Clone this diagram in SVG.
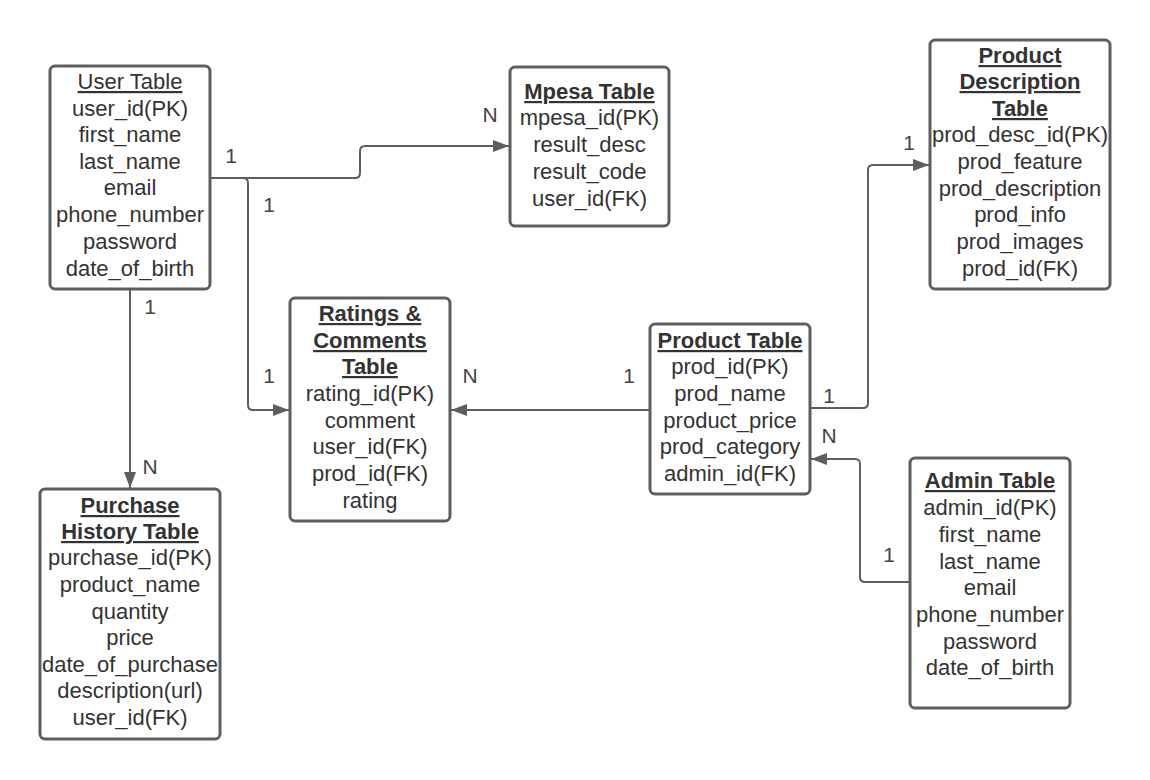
<svg xmlns="http://www.w3.org/2000/svg" width="1150" height="780" viewBox="0 0 1150 780">
<style>
.box{fill:#ffffff;stroke:#5e5e5e;stroke-width:3}
.t{font-family:"Liberation Sans",Arial,sans-serif;font-size:22px;fill:#333333;text-anchor:middle}
.h{font-weight:bold;text-decoration:underline}
.u{text-decoration:underline}
.c{fill:none;stroke:#5e5e5e;stroke-width:2}
.l{font-family:"Liberation Sans",Arial,sans-serif;font-size:21px;fill:#444444;text-anchor:middle}
</style>
<defs>
<marker id="arr" markerUnits="userSpaceOnUse" markerWidth="18" markerHeight="14" refX="16" refY="6" orient="auto">
<path d="M0,0 L16,6 L0,12 z" fill="#5e5e5e"/>
</marker>
</defs>
<rect width="1150" height="780" fill="#ffffff"/>
<g id="connectors">
<path class="c" d="M210,178 H355 Q360,178 360,173 V151 Q360,146 365,146 H509" marker-end="url(#arr)"/>
<path class="c" d="M210,178 H243 Q248,178 248,183 V405 Q248,410 253,410 H289" marker-end="url(#arr)"/>
<path class="c" d="M130,289 V488" marker-end="url(#arr)"/>
<path class="c" d="M650,410 H451" marker-end="url(#arr)"/>
<path class="c" d="M810,408 H863 Q868,408 868,403 V170 Q868,165 873,165 H929" marker-end="url(#arr)"/>
<path class="c" d="M910,582 H865 Q860,582 860,577 V464 Q860,459 855,459 H811" marker-end="url(#arr)"/>
<text class="l" x="231" y="163">1</text>
<text class="l" x="490" y="122">N</text>
<text class="l" x="269" y="212">1</text>
<text class="l" x="269" y="383">1</text>
<text class="l" x="150" y="314">1</text>
<text class="l" x="150" y="474">N</text>
<text class="l" x="470" y="383">N</text>
<text class="l" x="629" y="383">1</text>
<text class="l" x="829" y="403">1</text>
<text class="l" x="909" y="150">1</text>
<text class="l" x="829" y="443">N</text>
<text class="l" x="889" y="562">1</text>
</g>
<g id="user">
<rect class="box" x="50" y="66" width="160" height="223" rx="5"/>
<text class="t u" x="130" y="89">User Table</text>
<text class="t" x="130" y="116">user_id(PK)</text>
<text class="t" x="130" y="142">first_name</text>
<text class="t" x="130" y="169">last_name</text>
<text class="t" x="130" y="195">email</text>
<text class="t" x="130" y="222">phone_number</text>
<text class="t" x="130" y="249">password</text>
<text class="t" x="130" y="276">date_of_birth</text>
</g>
<g id="mpesa">
<rect class="box" x="510" y="67" width="159" height="159" rx="5"/>
<text class="t h" x="589.5" y="99">Mpesa Table</text>
<text class="t" x="589.5" y="125">mpesa_id(PK)</text>
<text class="t" x="589.5" y="152">result_desc</text>
<text class="t" x="589.5" y="179">result_code</text>
<text class="t" x="589.5" y="206">user_id(FK)</text>
</g>
<g id="proddesc">
<rect class="box" x="930" y="40" width="180" height="249" rx="5"/>
<text class="t h" x="1020" y="63">Product</text>
<text class="t h" x="1020" y="89">Description</text>
<text class="t h" x="1020" y="116">Table </text>
<text class="t" x="1020" y="142">prod_desc_id(PK)</text>
<text class="t" x="1020" y="169">prod_feature</text>
<text class="t" x="1020" y="196">prod_description</text>
<text class="t" x="1020" y="222">prod_info</text>
<text class="t" x="1020" y="249">prod_images</text>
<text class="t" x="1020" y="276">prod_id(FK)</text>
</g>
<g id="ratings">
<rect class="box" x="290" y="298" width="160" height="223" rx="5"/>
<text class="t h" x="370" y="321">Ratings &amp;</text>
<text class="t h" x="370" y="348">Comments</text>
<text class="t h" x="370" y="374">Table </text>
<text class="t" x="370" y="401">rating_id(PK)</text>
<text class="t" x="370" y="428">comment</text>
<text class="t" x="370" y="454">user_id(FK)</text>
<text class="t" x="370" y="481">prod_id(FK)</text>
<text class="t" x="370" y="508">rating</text>
</g>
<g id="product">
<rect class="box" x="650" y="324" width="160" height="170" rx="5"/>
<text class="t h" x="730" y="348">Product Table</text>
<text class="t" x="730" y="374">prod_id(PK)</text>
<text class="t" x="730" y="401">prod_name</text>
<text class="t" x="730" y="428">product_price</text>
<text class="t" x="730" y="454">prod_category</text>
<text class="t" x="730" y="481">admin_id(FK)</text>
</g>
<g id="admin">
<rect class="box" x="910" y="458" width="160" height="250" rx="5"/>
<text class="t h" x="990" y="488">Admin Table</text>
<text class="t" x="990" y="515">admin_id(PK)</text>
<text class="t" x="990" y="542">first_name</text>
<text class="t" x="990" y="569">last_name</text>
<text class="t" x="990" y="595">email</text>
<text class="t" x="990" y="622">phone_number</text>
<text class="t" x="990" y="649">password</text>
<text class="t" x="990" y="675">date_of_birth</text>
</g>
<g id="purchase">
<rect class="box" x="40" y="489" width="180" height="250" rx="5"/>
<text class="t h" x="130" y="513">Purchase</text>
<text class="t h" x="130" y="539">History Table</text>
<text class="t" x="130" y="565">purchase_id(PK)</text>
<text class="t" x="130" y="592">product_name</text>
<text class="t" x="130" y="619">quantity</text>
<text class="t" x="130" y="645">price</text>
<text class="t" x="130" y="672">date_of_purchase</text>
<text class="t" x="130" y="698">description(url)</text>
<text class="t" x="130" y="725">user_id(FK)</text>
</g>
</svg>
